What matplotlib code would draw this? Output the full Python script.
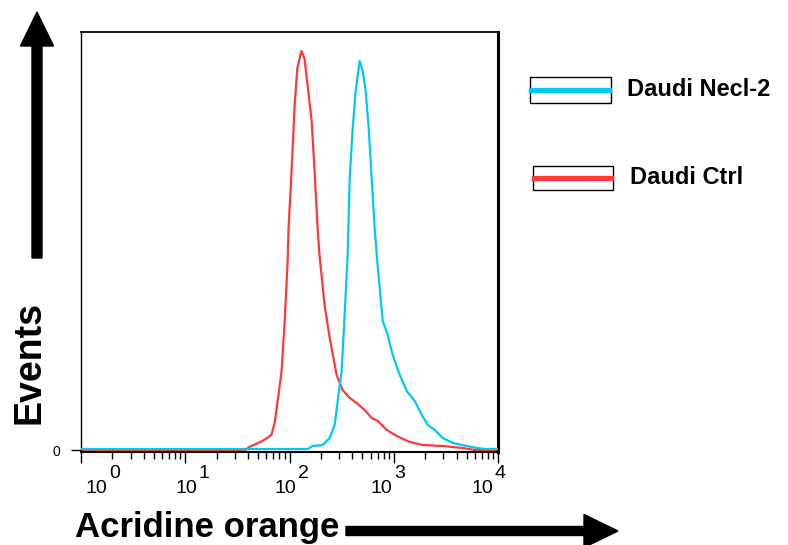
import numpy as np
import matplotlib
matplotlib.use('Agg')
import matplotlib.pyplot as plt
from matplotlib.patches import FancyArrow, Rectangle
from matplotlib.lines import Line2D
from matplotlib.transforms import IdentityTransform, blended_transform_factory

plt.rcParams['font.family'] = ['Liberation Sans', 'DejaVu Sans']

# datos (intensidad de fluorescencia, eventos)
ctrl_x = [1, 38, 41, 55, 67, 72, 77, 84, 90, 96, 98, 105, 112, 119, 130, 139, 149, 163, 174,
          186, 194, 217, 243, 283, 323, 378, 441, 526, 614, 702, 857, 1069, 1426, 1901,
          2958, 4605, 6010, 10000]
ctrl_y = [0, 0, 3, 9, 15, 27, 49, 79, 129, 189, 222, 282, 345, 382, 399, 392, 365, 329, 279,
          222, 195, 145, 112, 75, 60, 52, 47, 40, 32, 29, 20, 14, 8, 5,
          4, 2, 0, 0]

necl_x = [1, 150, 166, 208, 243, 271, 290, 316, 338, 361, 378, 404, 431, 471, 504, 538, 575,
          614, 656, 687, 733, 784, 875, 977, 1142, 1334, 1592, 1858, 2123, 2477, 2958,
          3691, 5036, 6285, 7500, 10000]
necl_y = [1, 1, 4, 5, 12, 25, 49, 79, 135, 195, 272, 322, 359, 389, 379, 359, 322,
          272, 222, 195, 162, 129, 115, 95, 75, 59, 49, 35, 25, 20, 12,
          7, 4, 2, 1, 1]

labels = ['Daudi Necl-2', 'Daudi Ctrl']
colores = ['#00C8F5', '#FF3838']

decadas = [1, 10, 100, 1000, 10000]
exponentes = ['0', '1', '2', '3', '4']
desplaz = [0.15, 0.01, -0.04, -0.12, -0.15]  # los numeros no quedan centrados en la marca

W, H = 788, 545
fig = plt.figure(figsize=(W / 100, H / 100), dpi=100)
ax = fig.add_axes([81 / W, 1 - 452 / H, (498 - 81) / W, (452 - 32) / H])

ax.plot(ctrl_x, ctrl_y, color=colores[1], lw=1.6, zorder=2)
ax.plot(necl_x, necl_y, color=colores[0], lw=1.6, zorder=3)

ax.set_xscale('log')
ax.set_xlim(1, 10000)
ax.set_ylim(-2, 418)

ax.set_yticks([0])
ax.set_yticklabels(['0'], fontsize=10)
ax.tick_params(axis='y', length=7, width=1, pad=8)
ax.tick_params(axis='x', which='major', length=8, width=1, labelbottom=False)
ax.tick_params(axis='x', which='minor', length=5, width=1)
ax.spines['left'].set_linewidth(1.0)
ax.spines['top'].set_linewidth(1.3)
ax.spines['bottom'].set_linewidth(1.5)
ax.spines['right'].set_linewidth(2.2)

# etiquetas de las decadas
tr = blended_transform_factory(ax.transData, ax.transAxes)
for d, e, o in zip(decadas, exponentes, desplaz):
    xd = d * 10 ** o
    ax.text(xd, -0.086, '10', transform=tr, ha='center', va='center', fontsize=14)
    ax.text(xd * 10 ** 0.12, -0.05, e, transform=tr, ha='left', va='center', fontsize=14)

def fx(x):
    return x / W

def fy(y):
    return 1 - y / H

# flechas de los ejes
fig.add_artist(FancyArrow(37, H - 258, 0, 246, width=10, head_width=33, head_length=34,
                          length_includes_head=True, color='black', transform=IdentityTransform()))
fig.add_artist(FancyArrow(346, H - 531, 272, 0, width=9, head_width=33, head_length=34,
                          length_includes_head=True, color='black', transform=IdentityTransform()))

fig.text(fx(75), fy(528), 'Acridine orange', fontsize=25, fontweight='bold', va='center', ha='left')
fig.text(fx(29), fy(362), 'Events', fontsize=27, fontweight='bold', rotation=90,
         va='center', ha='center')

# leyenda hecha a mano
cajas = [(530, 611, 77, 103), (533, 613, 166, 190)]
textos_x = [627, 630]
for (x0, x1, y0, y1), lab, c, tx in zip(cajas, labels, colores, textos_x):
    fig.add_artist(Rectangle((fx(x0), fy(y1)), fx(x1 - x0), (y1 - y0) / H,
                             transform=fig.transFigure, fill=False, ec='black', lw=1))
    ym = fy((y0 + y1) / 2)
    fig.add_artist(Line2D([fx(x0 + 1), fx(x1 - 2)], [ym, ym], color=c, lw=3.8,
                          transform=fig.transFigure))
    fig.text(fx(tx), ym, lab, fontsize=17, fontweight='bold', va='center', ha='left')

fig.savefig('out.png', dpi=100)
